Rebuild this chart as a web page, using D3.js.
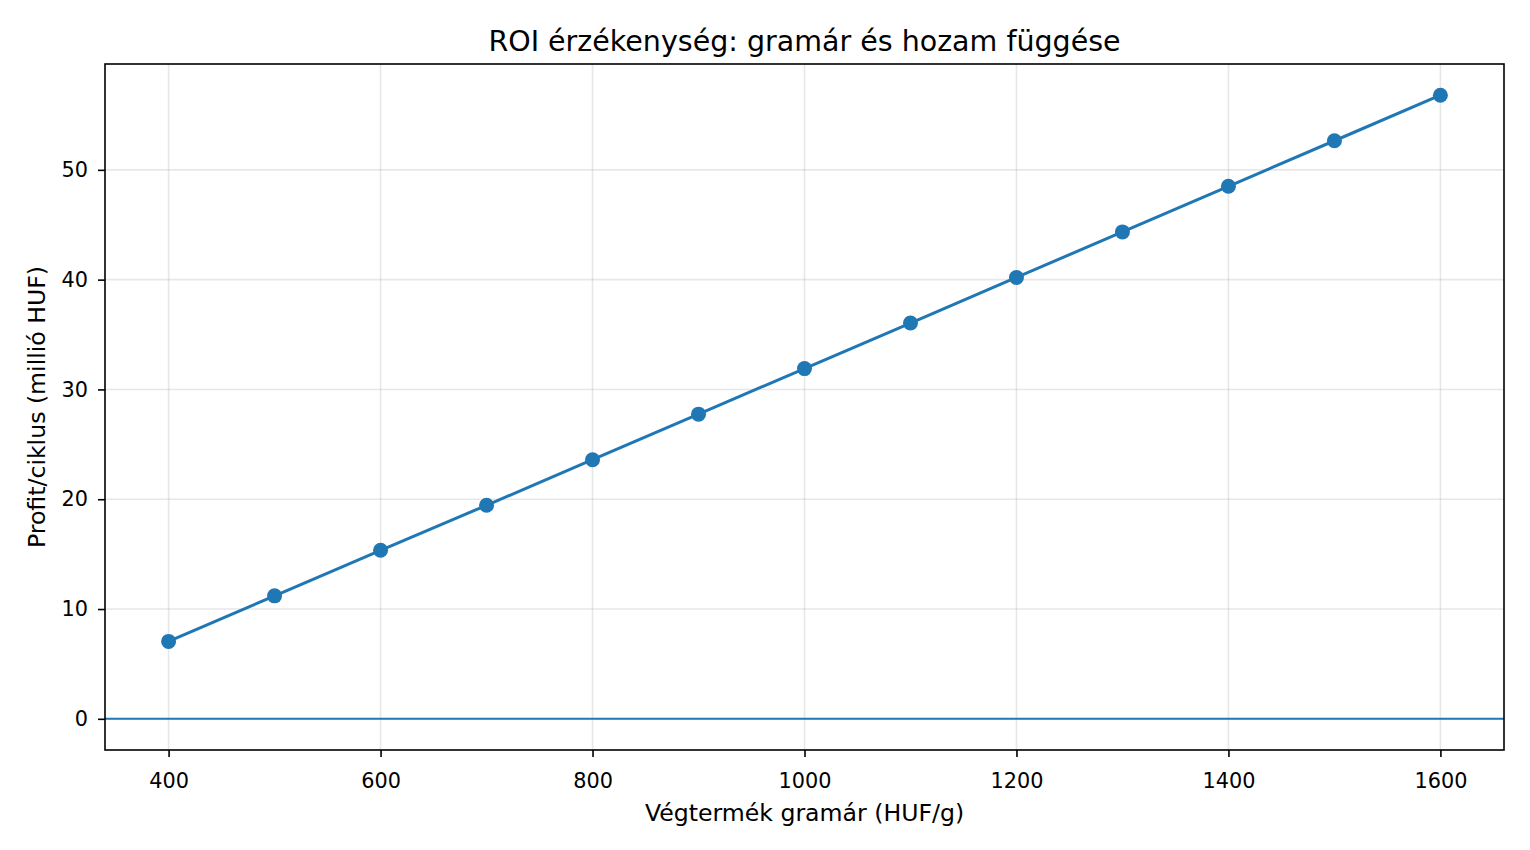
<!DOCTYPE html>
<html>
<head>
<meta charset="utf-8">
<script src="https://cdn.jsdelivr.net/npm/d3@7"></script>
<style>
  body { margin: 0; background: #fff; }
  text { font-family: "DejaVu Sans", sans-serif; fill: #000; }
</style>
</head>
<body>
<div id="chart"></div>
<script>
// price per gram (HUF/g) and profit per cycle (million HUF)
const prices = [400, 500, 600, 700, 800, 900, 1000, 1100, 1200, 1300, 1400, 1500, 1600]
const profits = [7.05, 11.2, 15.35, 19.45, 23.6, 27.75, 31.9, 36.05, 40.2, 44.35, 48.5, 52.65, 56.8]
const xTicks = [400, 600, 800, 1000, 1200, 1400, 1600]
const yTicks = [0, 10, 20, 30, 40, 50]

const titleText = 'ROI érzékenység: gramár és hozam függése'
const xLabel = 'Végtermék gramár (HUF/g)'
const yLabel = 'Profit/ciklus (millió HUF)'

const params = {
  width: 1530,
  height: 850,
  marginTop: 64,
  marginBottom: 100,
  marginLeft: 105,
  marginRight: 26,
}

const blue = '#1f77b4'
const data = prices.map((p, i) => ({ price: p, profit: profits[i] }))

const svg = d3.select('#chart')
  .append('svg')
  .attr('width', params.width)
  .attr('height', params.height)

const innerW = params.width - params.marginLeft - params.marginRight
const innerH = params.height - params.marginTop - params.marginBottom

// 5% padding like matplotlib autoscale, y includes the 0 line
const xPad = (d3.max(prices) - d3.min(prices)) * 0.05
const yMax = d3.max(profits)
const yPad = yMax * 0.05

const x = d3.scaleLinear()
  .domain([d3.min(prices) - xPad, d3.max(prices) + xPad])
  .range([params.marginLeft, params.marginLeft + innerW])

const y = d3.scaleLinear()
  .domain([0 - yPad, yMax + yPad])
  .range([params.marginTop + innerH, params.marginTop])

// grid
const grid = svg.append('g')
grid.selectAll('.vgrid')
  .data(xTicks)
  .enter()
  .append('line')
  .attr('x1', d => x(d)).attr('x2', d => x(d))
  .attr('y1', params.marginTop).attr('y2', params.marginTop + innerH)
  .attr('stroke', '#b0b0b0').attr('stroke-opacity', 0.3).attr('stroke-width', 1.6)
grid.selectAll('.hgrid')
  .data(yTicks)
  .enter()
  .append('line')
  .attr('x1', params.marginLeft).attr('x2', params.marginLeft + innerW)
  .attr('y1', d => y(d)).attr('y2', d => y(d))
  .attr('stroke', '#b0b0b0').attr('stroke-opacity', 0.3).attr('stroke-width', 1.6)

// zero line
svg.append('line')
  .attr('x1', params.marginLeft).attr('x2', params.marginLeft + innerW)
  .attr('y1', y(0)).attr('y2', y(0))
  .attr('stroke', blue).attr('stroke-width', 2)

// profit line + markers
const line = d3.line().x(d => x(d.price)).y(d => y(d.profit))
svg.append('path')
  .datum(data)
  .attr('d', line)
  .attr('fill', 'none')
  .attr('stroke', blue)
  .attr('stroke-width', 3)

svg.selectAll('circle')
  .data(data)
  .enter()
  .append('circle')
  .attr('cx', d => x(d.price))
  .attr('cy', d => y(d.profit))
  .attr('r', 7.5)
  .attr('fill', blue)

// axes
const xAxis = svg.append('g')
  .attr('transform', `translate(0,${params.marginTop + innerH})`)
  .call(d3.axisBottom(x).tickValues(xTicks).tickSize(7).tickPadding(16).tickFormat(d3.format('d')))
const yAxis = svg.append('g')
  .attr('transform', `translate(${params.marginLeft},0)`)
  .call(d3.axisLeft(y).tickValues(yTicks).tickSize(7).tickPadding(10).tickFormat(d3.format('d')))

for (const ax of [xAxis, yAxis]) {
  ax.select('.domain').remove()
  ax.selectAll('line').attr('stroke', '#000').attr('stroke-width', 1.6)
  ax.selectAll('text').style('font-size', '20.8px').style('font-family', '"DejaVu Sans", sans-serif').attr('fill', '#000')
}

// frame
svg.append('rect')
  .attr('x', params.marginLeft).attr('y', params.marginTop)
  .attr('width', innerW).attr('height', innerH)
  .attr('fill', 'none').attr('stroke', '#000').attr('stroke-width', 1.6)

// labels
svg.append('text')
  .attr('x', params.marginLeft + innerW / 2)
  .attr('y', 51)
  .attr('text-anchor', 'middle')
  .style('font-size', '28.5px')
  .text(titleText)

svg.append('text')
  .attr('x', params.marginLeft + innerW / 2)
  .attr('y', 821)
  .attr('text-anchor', 'middle')
  .style('font-size', '23.6px')
  .text(xLabel)

svg.append('text')
  .attr('transform', `translate(45,${params.marginTop + innerH / 2}) rotate(-90)`)
  .attr('text-anchor', 'middle')
  .style('font-size', '23.6px')
  .text(yLabel)
</script>
</body>
</html>
